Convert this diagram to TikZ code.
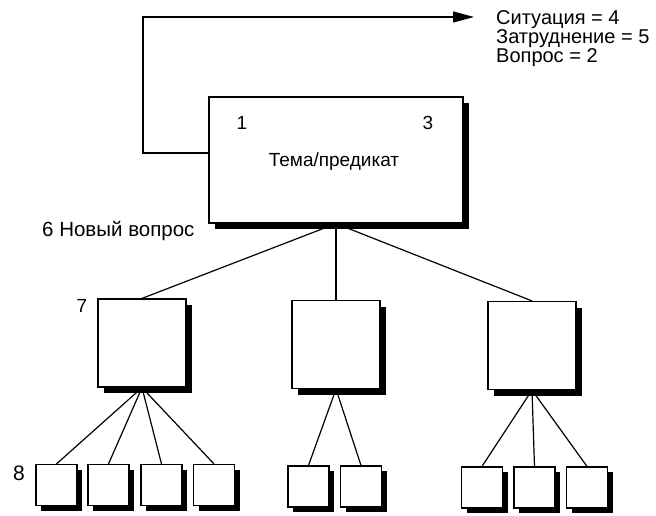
\documentclass[tikz,border=0pt]{standalone}
\usepackage{fontspec}
\setmainfont{Liberation Sans}
\usetikzlibrary{shadows,arrows.meta}
\pgfdeclarelayer{bg}
\pgfsetlayers{bg,main}
\begin{document}
\begin{tikzpicture}[x=1pt,y=-1pt,
  box/.style={draw, line width=1.2pt, fill=white, inner sep=0pt,
    drop shadow={shadow xshift=#1, shadow yshift=-#1, fill=black, opacity=1}},
  big/.style={box=6pt, minimum width=254pt, minimum height=126pt},
  mid/.style={box=6pt, minimum width=88pt, minimum height=88pt},
  small/.style={box=5pt, minimum width=41pt, minimum height=41pt},
  lbl/.style={inner sep=0pt, font=\fontsize{20}{24}\selectfont},
  num/.style={inner sep=0pt, font=\fontsize{19}{22}\selectfont},
  conn/.style={line width=1.2pt}]
\useasboundingbox (0,0) rectangle (656,515);

% boxes
\node[big] (main) at (336,160) {};
\node[mid] (m1) at (142,343) {};
\node[mid] (m2) at (336,344.5) {};
\node[mid] (m3) at (532,345.5) {};

\node[small] (a1) at (56.5,485) {};
\node[small] (a2) at (108.5,485) {};
\node[small] (a3) at (161.5,485) {};
\node[small] (a4) at (214,485) {};
\node[small] (b1) at (308.5,486.5) {};
\node[small] (b2) at (361,486.5) {};
\node[small] (c1) at (482,487.5) {};
\node[small] (c2) at (534.5,487.5) {};
\node[small] (c3) at (587,487.5) {};

% texts
\node[num, anchor=base] (n1) at (242,129) {1};
\node[num, anchor=base] (n3) at (428,129) {3};
\node[inner sep=0pt, font=\fontsize{19}{22}\selectfont, anchor=base] (tema) at (334,166) {Тема/предикат};
\node[lbl, anchor=base west] (sit) at (496,24) {Ситуация = 4};
\node[lbl, anchor=base west] (zat) at (496,43) {Затруднение = 5};
\node[lbl, anchor=base west] (vop) at (496,62) {Вопрос = 2};
\node[inner sep=0pt, font=\fontsize{20.5}{24}\selectfont, anchor=base west] (nv) at (42,236) {6 Новый вопрос};
\node[num, anchor=base] (n7) at (82,312) {7};
\node[inner sep=0pt, font=\fontsize{21}{24}\selectfont, anchor=base] (n8) at (19,480) {8};

% feedback arrow
\coordinate (fbstart) at (209,153);
\coordinate (fbcorner) at (143,17);
\coordinate (fbend) at (474,17);

\begin{pgfonlayer}{bg}
\draw[conn] (main.south) -- (m1.north);
\draw[conn] (main.south) -- (m2.north);
\draw[conn] (main.south) -- (m3.north);
\foreach \s in {a1,a2,a3,a4} \draw[conn] (m1.south) -- (\s.north);
\foreach \s in {b1,b2} \draw[conn] (m2.south) -- (\s.north);
\foreach \s in {c1,c2,c3} \draw[conn] (m3.south) -- (\s.north);
\end{pgfonlayer}
\draw[conn, -{Triangle[length=21pt,width=11pt]}] (fbstart) -| (fbcorner) -- (fbend);
\end{tikzpicture}
\end{document}
